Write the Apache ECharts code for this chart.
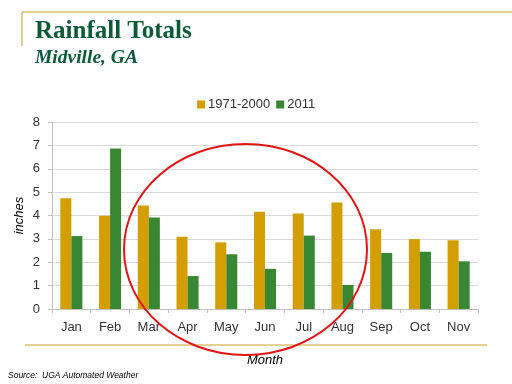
<!DOCTYPE html>
<html><head><meta charset="utf-8">
<script src="https://cdn.jsdelivr.net/npm/echarts@6/dist/echarts.min.js"></script>
<style>html,body{margin:0;padding:0;background:#fff}#c{width:512px;height:384px}</style>
</head><body><div id="c"></div>
<script>
const categories = ['Jan','Feb','Mar','Apr','May','Jun','Jul','Aug','Sep','Oct','Nov'];
const normal1971 = [4.74, 3.99, 4.43, 3.09, 2.85, 4.16, 4.09, 4.56, 3.41, 2.99, 2.94];
const year2011 = [3.12, 6.87, 3.91, 1.41, 2.34, 1.72, 3.14, 1.03, 2.40, 2.45, 2.04];
const yTicks = [0,1,2,3,4,5,6,7,8];

const chart = echarts.init(document.getElementById('c'), null, {renderer:'canvas'});
const axisFont = 'Liberation Sans, Arial, sans-serif';
chart.setOption({
  animation:false,
  backgroundColor:'#fff',
  title:[
    {text:'Rainfall Totals', left:35, top:19, padding:0, textStyle:{fontFamily:'Liberation Serif, Times New Roman, serif', fontWeight:'bold', fontSize:25, color:'#0B5B37'}},
    {text:'Midville, GA', left:35, top:48, padding:0, textStyle:{fontFamily:'Liberation Serif, Times New Roman, serif', fontWeight:'bold', fontStyle:'italic', fontSize:19.5, color:'#0B5B37'}}
  ],
  legend:{top:93, left:192, itemWidth:8, itemHeight:8, itemGap:6, icon:'rect',
    textStyle:{fontFamily:axisFont, fontSize:13, color:'#333', padding:[0,0,0,-2]}},
  grid:{left:52, right:34, top:122, bottom:75, containLabel:false},
  xAxis:{type:'category', data:categories,
    axisLine:{lineStyle:{color:'#BFBFBF'}},
    axisTick:{show:true, length:4, lineStyle:{color:'#BFBFBF'}},
    axisLabel:{fontFamily:axisFont, fontSize:13, color:'#333', margin:12},
    name:'Month', nameLocation:'middle', nameGap:45,
    nameTextStyle:{fontFamily:axisFont, fontStyle:'italic', fontSize:13, color:'#000'}},
  yAxis:{type:'value', min:0, max:8, interval:1,
    axisLine:{show:true, lineStyle:{color:'#BFBFBF'}},
    axisTick:{show:true, length:4, lineStyle:{color:'#BFBFBF'}},
    splitLine:{lineStyle:{color:'#D9D9D9'}},
    axisLabel:{fontFamily:axisFont, fontSize:13, color:'#333', margin:12,
      formatter:v=>yTicks.includes(v)?String(v):''},
    name:'inches', nameLocation:'middle', nameGap:26, nameRotate:90, nameMoveOverlap:false,
    nameTextStyle:{fontFamily:axisFont, fontStyle:'italic', fontSize:13, color:'#000'}},
  series:[
    {name:'1971-2000', type:'bar', data:normal1971, barGap:'0%', barCategoryGap:'43%', itemStyle:{color:'#D29E00'}},
    {name:'2011', type:'bar', data:year2011, barGap:'0%', barCategoryGap:'43%', itemStyle:{color:'#3A8733'}}
  ],
  graphic:[
    {type:'line', shape:{x1:22, y1:12, x2:512, y2:12}, style:{stroke:'#C9A227', lineWidth:1}},
    {type:'line', shape:{x1:22, y1:12, x2:22, y2:46}, style:{stroke:'#C9A227', lineWidth:1}},
    {type:'line', shape:{x1:25, y1:345, x2:487, y2:345}, style:{stroke:'#C9A227', lineWidth:1}},
    {type:'ellipse', shape:{cx:245.5, cy:249.5, rx:121.5, ry:105.5}, style:{fill:null, stroke:'#E01515', lineWidth:2}, z:100},
    {type:'text', left:8, top:371, style:{text:'Source:  UGA Automated Weather', font:'italic 8.5px Liberation Sans, Arial, sans-serif', fill:'#000'}}
  ]
});
</script></body></html>
